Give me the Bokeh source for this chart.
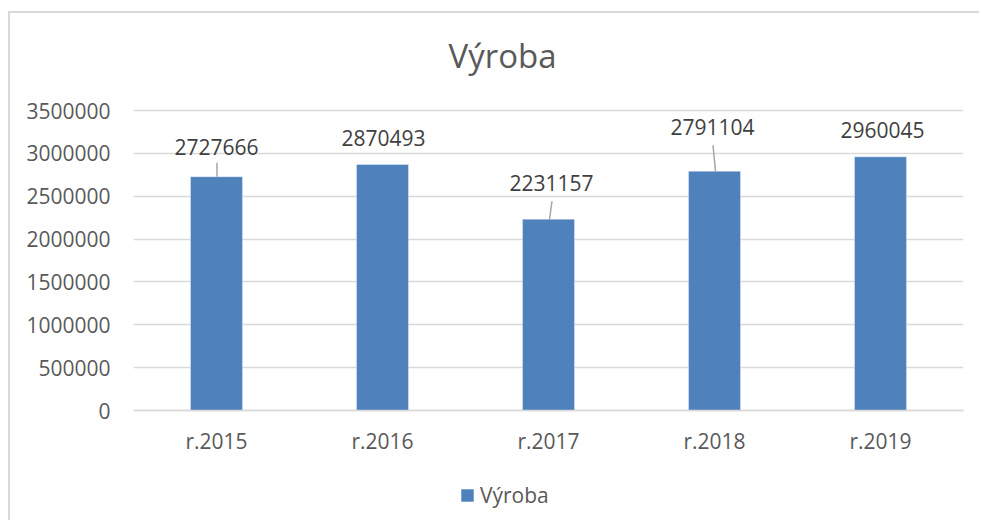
from bokeh.plotting import figure
from bokeh.models import (ColumnDataSource, Range1d, FixedTicker, Legend, LegendItem,
                          NumeralTickFormatter, Label)
from bokeh.embed import file_html
from bokeh.resources import INLINE
from bokeh.core.properties import value

# ---- data ----
categories = ["r.2015", "r.2016", "r.2017", "r.2018", "r.2019"]
vyroba = [2727666, 2870493, 2231157, 2791104, 2960045]
y_ticks = [0, 500000, 1000000, 1500000, 2000000, 2500000, 3000000, 3500000]
series_name = "Výroba"
title_text = "Výroba"

# ---- label layout (pixels) ----
label_dx = [0, 1, 3, -2, 2]
label_dy = [30, 26, 36, 44, 27]
lead_idx = [0, 2, 3]
lead_dx0 = [0.5, 1.0, 1.0]
lead_dx1 = [0.5, 3.5, -1.5]
lead_len = [14, 18, 26]

FONT = "Open Sans"
FRAME_W = 830
PLOT_H = 300          # pixel height of the 0..Y_MAX value band
PAD_TOP = 97          # title area (inside the frame)
PAD_BOTTOM = 110      # category labels + legend area (inside the frame)
Y_MAX = 3500000
xpp = 5.0 / FRAME_W
ypp = Y_MAX / PLOT_H

xs = list(range(len(categories)))
src = ColumnDataSource(dict(x=xs, top=vyroba, txt=[str(v) for v in vyroba],
                            dx=label_dx, dy=[-d for d in label_dy]))

p = figure(frame_width=FRAME_W, frame_height=PLOT_H + PAD_TOP + PAD_BOTTOM,
           output_backend="svg", toolbar_location=None,
           x_range=Range1d(-0.5, 4.5),
           y_range=Range1d(-PAD_BOTTOM * ypp, Y_MAX + PAD_TOP * ypp),
           min_border_left=123, min_border_right=16, min_border_top=0,
           min_border_bottom=0)
p.styles = {"border-top": "2px solid #d9d9d9", "border-left": "2px solid #d9d9d9",
            "margin-top": "11px", "margin-left": "8px"}
p.outline_line_color = None
p.background_fill_color = "white"
p.border_fill_color = "white"

title = Label(x=315, y=PLOT_H + PAD_BOTTOM + PAD_TOP - 42, x_units="screen",
              y_units="screen", text=title_text, text_font=FONT,
              text_font_size="33px", text_color="#595959",
              text_align="left", text_baseline="alphabetic")
p.add_layout(title)

bars = p.vbar(x="x", top="top", width=52 * xpp, source=src,
              fill_color="#4f81bd", line_color="#ffffff", line_alpha=0.35, line_width=1)

# leader lines
p.segment(x0=[xs[i] + d * xpp for i, d in zip(lead_idx, lead_dx0)],
          y0=[vyroba[i] for i in lead_idx],
          x1=[xs[i] + d * xpp for i, d in zip(lead_idx, lead_dx1)],
          y1=[vyroba[i] + l * ypp for i, l in zip(lead_idx, lead_len)],
          line_color="#a6a6a6", line_width=1.5)

p.text(x="x", y="top", text="txt", x_offset="dx", y_offset="dy", source=src,
       text_align="center", text_baseline="middle", text_font=value(FONT),
       text_font_size="21px", text_color="#404040")

# axes
p.xaxis.fixed_location = 0
p.xaxis.ticker = FixedTicker(ticks=xs)
p.xaxis.major_label_overrides = {i: c for i, c in zip(xs, categories)}
p.xaxis.axis_line_color = "#d9d9d9"
p.xaxis.axis_line_width = 1.5
p.xaxis.major_tick_line_color = None
p.xaxis.minor_tick_line_color = None
p.xaxis.major_label_text_font = FONT
p.xaxis.major_label_text_font_size = "21px"
p.xaxis.major_label_text_color = "#595959"
p.xaxis.major_label_standoff = 10

p.yaxis.ticker = FixedTicker(ticks=y_ticks)
p.yaxis.formatter = NumeralTickFormatter(format="0")
p.yaxis.axis_line_color = None
p.yaxis.major_tick_line_color = None
p.yaxis.minor_tick_line_color = None
p.yaxis.major_label_text_font = FONT
p.yaxis.major_label_text_font_size = "21px"
p.yaxis.major_label_text_color = "#595959"
p.yaxis.major_label_standoff = 17

p.xgrid.grid_line_color = None
p.ygrid.ticker = FixedTicker(ticks=y_ticks)
p.ygrid.grid_line_color = "#d9d9d9"
p.ygrid.grid_line_width = 1.3

legend = Legend(items=[LegendItem(label=series_name, renderers=[bars])],
                orientation="horizontal", location=(326, 11),
                glyph_width=16, glyph_height=16, label_standoff=5,
                label_text_font=FONT, label_text_font_size="21px",
                label_text_color="#595959", border_line_color=None,
                background_fill_alpha=0, padding=0, margin=0, spacing=0)
p.add_layout(legend, "center")

open("out.html", "w").write(file_html(p, INLINE))
